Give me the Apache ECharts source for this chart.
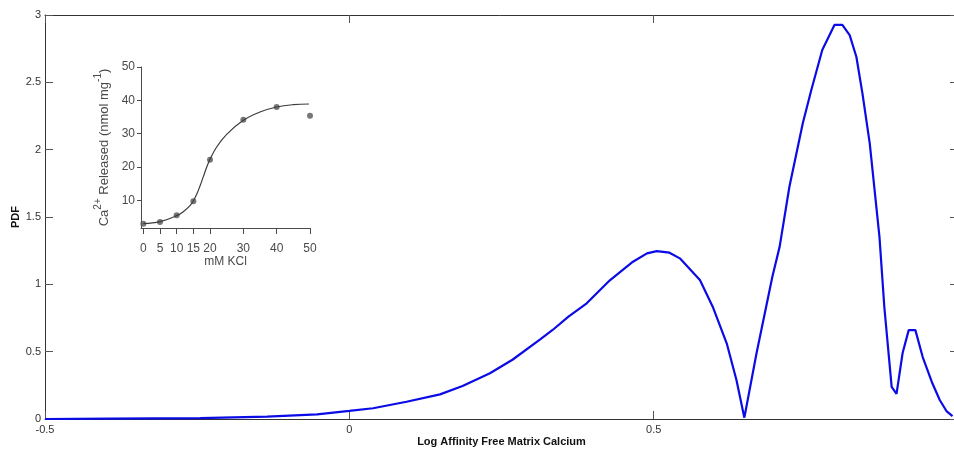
<!DOCTYPE html>
<html>
<head>
<meta charset="utf-8">
<script src="https://cdn.jsdelivr.net/npm/echarts@6/dist/echarts.min.js"></script>
<style>
  html, body { margin: 0; padding: 0; background: #fff; }
  #chart { width: 954px; height: 449px; }
</style>
</head>
<body>
<div id="chart"></div>
<script>
// Probability density of log affinity for free matrix calcium
const logAffinity = [-0.5, -0.393, -0.245, -0.135, -0.053, 0.0, 0.039, 0.094, 0.149, 0.186, 0.231, 0.268, 0.313, 0.334, 0.36, 0.39, 0.428, 0.466, 0.489, 0.505, 0.526, 0.543, 0.576, 0.597, 0.62, 0.636, 0.649, 0.669, 0.686, 0.695, 0.707, 0.723, 0.745, 0.759, 0.777, 0.797, 0.810, 0.822, 0.833, 0.843, 0.855, 0.871, 0.879, 0.891, 0.899, 0.909, 0.919, 0.930, 0.942, 0.957, 0.970, 0.981, 0.991];
const pdfValues   = [0.0, 0.003, 0.007, 0.017, 0.035, 0.06, 0.08, 0.128, 0.183, 0.245, 0.34, 0.44, 0.59, 0.661, 0.76, 0.859, 1.03, 1.168, 1.23, 1.247, 1.235, 1.193, 1.032, 0.834, 0.562, 0.29, 0.01, 0.488, 0.859, 1.057, 1.28, 1.725, 2.196, 2.443, 2.74, 2.926, 2.926, 2.85, 2.69, 2.418, 2.047, 1.35, 0.83, 0.238, 0.186, 0.49, 0.66, 0.66, 0.46, 0.275, 0.141, 0.059, 0.022];

// Inset: Ca2+ released vs KCl concentration
const kclDoses    = [0, 5, 10, 15, 20, 30, 40, 50];
const caReleased  = [3.0, 3.5, 5.5, 9.7, 22.2, 34.2, 38.0, 35.4];
const fitKcl      = [0, 5, 10, 12, 14, 15, 16, 17, 18, 19, 20, 22, 25, 30, 35, 40, 45, 49.7];
const fitCa       = [3.0, 3.6, 5.4, 6.6, 8.4, 9.8, 11.8, 14.3, 17.1, 19.9, 22.3, 26.0, 29.8, 34.0, 36.5, 38.0, 38.7, 38.9];
const insetXTicks = [0, 5, 10, 15, 20, 30, 40, 50];
const insetYTicks = [10, 20, 30, 40, 50];

const pairs = (xs, ys) => xs.map((x, i) => [x, ys[i]]);

const font = 'Liberation Sans, Arial, sans-serif';
const axisGray = '#333';
const insetInk = '#4a4a4a';

const chart = echarts.init(document.getElementById('chart'), null, { renderer: 'canvas' });

chart.setOption({
  animation: false,
  backgroundColor: '#fff',
  grid: [
    { left: 45, top: 15, width: 913, height: 404, outerBoundsMode: 'none', containLabel: false },
    { left: 141, top: 67, width: 169, height: 161, outerBoundsMode: 'none', containLabel: false }
  ],
  xAxis: [
    {
      gridIndex: 0, type: 'value', min: -0.5, max: 1.0, interval: 0.5, position: 'bottom',
      name: 'Log Affinity Free Matrix Calcium', nameLocation: 'middle', nameGap: 17, nameMoveOverlap: false,
      nameTextStyle: { fontFamily: font, fontSize: 11, fontWeight: 'bold', color: '#111' },
      axisLine: { show: true, onZero: false, lineStyle: { color: axisGray, width: 1 } },
      axisTick: { show: true, inside: true, length: 8, lineStyle: { color: '#555' } },
      axisLabel: { showMaxLabel: false, margin: 5, fontFamily: font, fontSize: 11, color: '#333' },
      splitLine: { show: false }
    },
    {
      gridIndex: 0, type: 'value', min: -0.5, max: 1.0, interval: 0.5, position: 'top',
      axisLine: { show: true, onZero: false, lineStyle: { color: axisGray, width: 1 } },
      axisTick: { show: true, inside: true, length: 8, lineStyle: { color: '#555' } },
      axisLabel: { show: false }, splitLine: { show: false }
    },
    {
      gridIndex: 1, type: 'value', min: -0.7, max: 50,
      name: 'mM KCl', nameLocation: 'middle', nameGap: 28, nameMoveOverlap: false,
      nameTextStyle: { fontFamily: font, fontSize: 12, color: insetInk },
      axisLine: { show: true, onZero: false, lineStyle: { color: insetInk, width: 1 } },
      axisTick: { show: true, length: 6, customValues: insetXTicks, lineStyle: { color: insetInk } },
      axisLabel: { customValues: insetXTicks, margin: 15, fontFamily: font, fontSize: 12, color: insetInk },
      splitLine: { show: false }
    }
  ],
  yAxis: [
    {
      gridIndex: 0, type: 'value', min: 0, max: 3, interval: 0.5, position: 'left',
      name: 'PDF', nameLocation: 'middle', nameGap: 24, nameRotate: 90, nameMoveOverlap: false,
      nameTextStyle: { fontFamily: font, fontSize: 11, fontWeight: 'bold', color: '#111' },
      axisLine: { show: true, onZero: false, lineStyle: { color: axisGray, width: 1 } },
      axisTick: { show: true, inside: true, length: 8, lineStyle: { color: '#555' } },
      axisLabel: { margin: 4, fontFamily: font, fontSize: 11, color: '#333' },
      splitLine: { show: false }
    },
    {
      gridIndex: 0, type: 'value', min: 0, max: 3, interval: 0.5, position: 'right',
      axisLine: { show: true, onZero: false, lineStyle: { color: axisGray, width: 1 } },
      axisTick: { show: true, inside: true, length: 8, lineStyle: { color: '#555' } },
      axisLabel: { show: false }, splitLine: { show: false }
    },
    {
      gridIndex: 1, type: 'value', min: 1.7, max: 50,
      name: '{t|Ca}{s|2+}{t| Released (nmol mg}{s|-1}{t|)}', nameLocation: 'middle', nameGap: 30, nameRotate: 90, nameMoveOverlap: false,
      nameTextStyle: {
        color: insetInk,
        rich: {
          t: { fontFamily: font, fontSize: 13, color: insetInk, verticalAlign: 'bottom', lineHeight: 18 },
          s: { fontFamily: font, fontSize: 10, color: insetInk, verticalAlign: 'top', lineHeight: 18, padding: [0, 0, 7, 0] }
        }
      },
      axisLine: { show: true, onZero: false, lineStyle: { color: insetInk, width: 1 } },
      axisTick: { show: true, length: 4, customValues: insetYTicks, lineStyle: { color: insetInk } },
      axisLabel: { customValues: insetYTicks, margin: 6, fontFamily: font, fontSize: 12, color: insetInk },
      splitLine: { show: false }
    }
  ],
  series: [
    {
      type: 'line', xAxisIndex: 0, yAxisIndex: 0,
      data: pairs(logAffinity, pdfValues),
      showSymbol: false, smooth: false,
      lineStyle: { color: '#0b0be6', width: 2.2 },
      z: 5
    },
    {
      type: 'line', xAxisIndex: 2, yAxisIndex: 2,
      data: pairs(fitKcl, fitCa),
      showSymbol: false, smooth: 0.4,
      lineStyle: { color: '#3c3c3c', width: 1.2 }
    },
    {
      type: 'scatter', xAxisIndex: 2, yAxisIndex: 2,
      data: pairs(kclDoses, caReleased),
      symbol: 'circle', symbolSize: 6,
      itemStyle: { color: '#555' }
    }
  ]
});
</script>
</body>
</html>
